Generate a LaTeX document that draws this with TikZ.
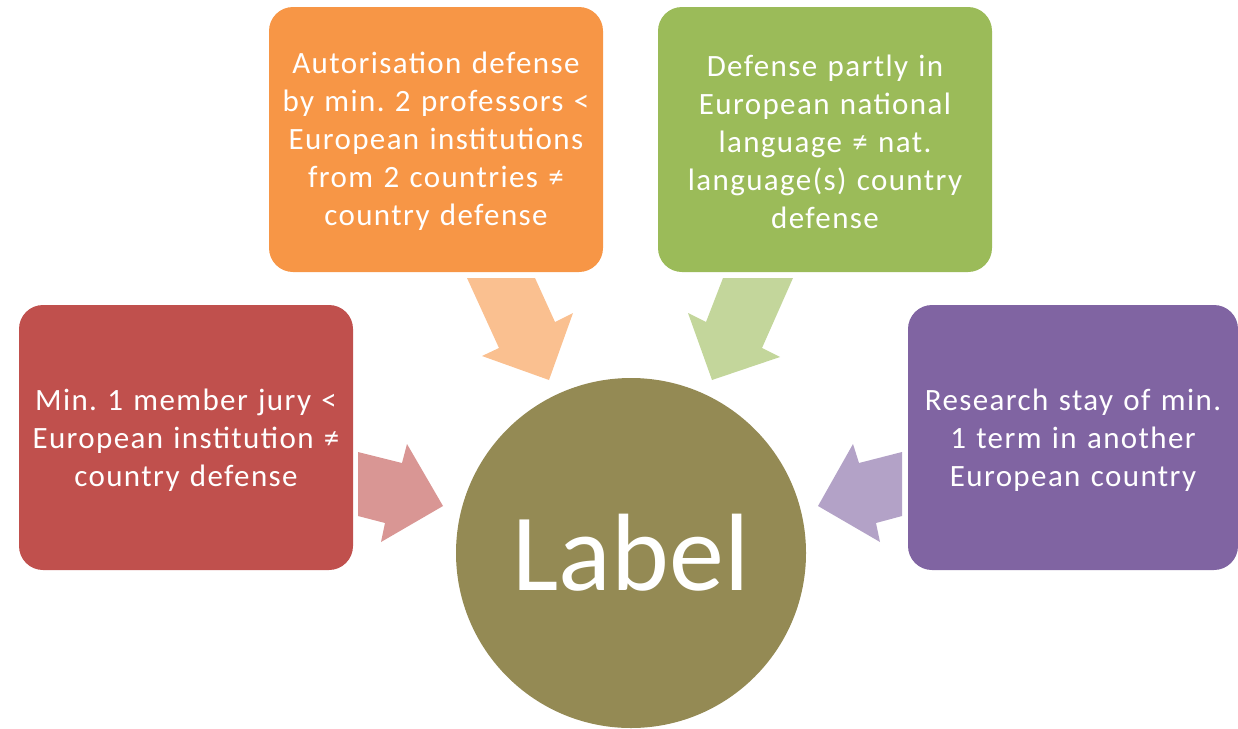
\documentclass[tikz,border=0pt]{standalone}
\usepackage{fontspec}
\setmainfont{Carlito}
\newfontfamily\boxfont[LetterSpace=4.5]{Carlito}
\frenchspacing
\definecolor{cred}{HTML}{C0504D}
\definecolor{credl}{HTML}{D99694}
\definecolor{corange}{HTML}{F79646}
\definecolor{corangel}{HTML}{FAC090}
\definecolor{cgreen}{HTML}{9BBB59}
\definecolor{cgreenl}{HTML}{C3D69B}
\definecolor{cpurple}{HTML}{8064A2}
\definecolor{cpurplel}{HTML}{B3A2C7}
\definecolor{colive}{HTML}{948A54}
\tikzset{
  box/.style={rectangle, rounded corners=24pt, minimum width=334pt, minimum height=265pt,
    text width=330pt, align=center, text=white, inner sep=0pt,
    font=\boxfont\fontsize{31}{38}\selectfont},
  boxtext/.style={text width=330pt, align=center, text=white, inner sep=0pt,
    font=\boxfont\fontsize{31}{38}\selectfont}
}
\begin{document}
\begin{tikzpicture}[x=1pt,y=-1pt]
\useasboundingbox (0,0) rectangle (1238,728);
% arrows
\fill[credl] (358,452) -- (402,463) -- (407,444) -- (443,506) -- (381,542) -- (385,523) -- (358,516) -- cycle;
\fill[corangel] (467,278) -- (535,278) -- (555,322) -- (573,313) -- (549,380) -- (482,356) -- (499,348) -- cycle;
\fill[cgreenl] (793,278) -- (723,278) -- (706,322) -- (688,313) -- (712,380) -- (780,357) -- (762,348) -- cycle;
\fill[cpurplel] (902,452) -- (859,463) -- (853,444) -- (818,506) -- (880,542) -- (876,523) -- (902,516) -- cycle;
% boxes
\node[box, fill=cred] (red) at (186,437.5) {};
\node[boxtext] (redt) at (186,440) {Min. 1 member jury <\\European institution ≠\\country defense};
\node[box, fill=corange] (orange) at (436,139.5) {};
\node[boxtext] (oranget) at (436,141.5) {Autorisation defense\\by min. 2 professors <\\European institutions\\from 2 countries ≠\\country defense};
\node[box, fill=cgreen] (green) at (825,139.5) {};
\node[boxtext] (greent) at (825,141.5) {Defense partly in\\European national\\language ≠ nat.\\language(s) country\\defense};
\node[box, fill=cpurple, minimum width=330pt] (purple) at (1073,437.5) {};
\node[boxtext] (purplet) at (1073,440) {Research stay of min.\\1 term in another\\European country};
% center
\node[circle, fill=colive, minimum size=350pt, inner sep=0pt, text=white,
  font=\fontsize{110}{120}\selectfont] (center) at (631,553) {Label};
\end{tikzpicture}
\end{document}
